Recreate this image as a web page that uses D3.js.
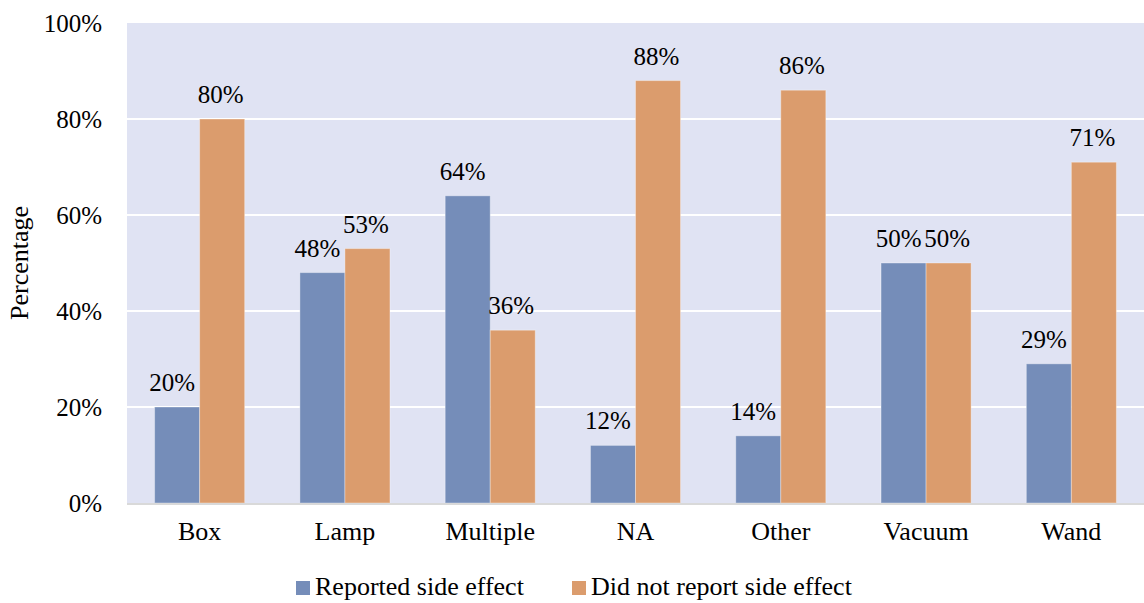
<!DOCTYPE html>
<html>
<head>
<meta charset="utf-8">
<script src="https://cdn.jsdelivr.net/npm/d3@7"></script>
<style>
  html, body { margin: 0; padding: 0; background: #fff; }
  svg { display: block; }
  svg text { font-family: "Liberation Serif", "Times New Roman", serif; }
</style>
</head>
<body>
<svg id="chart" width="1144" height="603"></svg>
<script>
// Device type categories and the share of respondents in each group
const categories = ["Box", "Lamp", "Multiple", "NA", "Other", "Vacuum", "Wand"];
const reported = [20, 48, 64, 12, 14, 50, 29];
const notReported = [80, 53, 36, 88, 86, 50, 71];
const seriesNames = ["Reported side effect", "Did not report side effect"];
const yTicks = [0, 20, 40, 60, 80, 100];

const colors = ["#758DB9", "#DB9C6D"];
const FONT = "'Liberation Serif', 'Times New Roman', serif";
const FS = 26;      // words
const FS_NUM = 25;  // percentages
const labelShift = [-5, -1.5];
const W = 1144, H = 603;
const margin = { top: 23, right: 0, bottom: 100, left: 127 };

const svg = d3.select("#chart");

const x = d3.scaleBand()
  .domain(categories)
  .range([margin.left, W - margin.right])
  .paddingInner(0.38)
  .paddingOuter(0.19);

const xSub = d3.scaleBand()
  .domain([0, 1])
  .range([0, x.bandwidth()]);

const y = d3.scaleLinear()
  .domain([0, 100])
  .range([H - margin.bottom, margin.top]);

// plot background
svg.append("rect")
  .attr("x", margin.left)
  .attr("y", margin.top)
  .attr("width", W - margin.left - margin.right)
  .attr("height", y(0) - margin.top)
  .attr("fill", "#E0E3F3");

// horizontal gridlines
svg.append("g")
  .selectAll("line")
  .data(yTicks.filter(d => d > 0 && d < 100))
  .join("line")
  .attr("x1", margin.left)
  .attr("x2", W - margin.right)
  .attr("y1", d => y(d))
  .attr("y2", d => y(d))
  .attr("stroke", "#ffffff")
  .attr("stroke-width", 2);

// y axis tick labels
const yAxis = d3.axisLeft(y)
  .tickValues(yTicks)
  .tickFormat(d => d + "%")
  .tickSize(0)
  .tickPadding(25);

const gy = svg.append("g")
  .attr("transform", `translate(${margin.left},0)`)
  .call(yAxis);
gy.select(".domain").remove();
gy.attr("font-family", null).attr("font-size", null);
gy.selectAll("text")
  .style("font-family", FONT)
  .style("font-size", FS_NUM + "px")
  .attr("fill", "#000");

// y axis title
svg.append("text")
  .attr("transform", `translate(28,${(y(0) + y(100)) / 2}) rotate(-90)`)
  .attr("text-anchor", "middle")
  .style("font-family", FONT)
  .style("font-size", FS + "px")
  .attr("fill", "#000")
  .text("Percentage");

// grouped bars
const rows = categories.map((c, i) => ({ cat: c, vals: [reported[i], notReported[i]] }));

const groups = svg.append("g")
  .selectAll("g")
  .data(rows)
  .join("g")
  .attr("transform", d => `translate(${x(d.cat)},0)`);

groups.selectAll("rect")
  .data(d => d.vals.map((v, k) => ({ v, k })))
  .join("rect")
  .attr("x", d => xSub(d.k))
  .attr("width", xSub.bandwidth())
  .attr("y", d => y(d.v))
  .attr("height", d => y(0) - y(d.v))
  .attr("fill", d => colors[d.k])
  .attr("stroke", "rgba(255,255,255,0.35)")
  .attr("stroke-width", 1);

// value labels above bars
groups.selectAll("text")
  .data(d => d.vals.map((v, k) => ({ v, k })))
  .join("text")
  .attr("x", d => xSub(d.k) + xSub.bandwidth() / 2 + labelShift[d.k])
  .attr("y", d => y(d.v) - 16)
  .attr("text-anchor", "middle")
  .style("font-family", FONT)
  .style("font-size", FS_NUM + "px")
  .attr("fill", "#000")
  .text(d => d.v + "%");

// x axis line and category labels
svg.append("line")
  .attr("x1", margin.left)
  .attr("x2", W - margin.right)
  .attr("y1", y(0) + 1)
  .attr("y2", y(0) + 1)
  .attr("stroke", "#D9D9D9")
  .attr("stroke-width", 2);

const xAxis = d3.axisBottom(x).tickSize(0).tickPadding(19);
const gx = svg.append("g")
  .attr("transform", `translate(0,${y(0)})`)
  .call(xAxis);
gx.select(".domain").remove();
gx.attr("font-family", null).attr("font-size", null);
gx.selectAll("text")
  .style("font-family", FONT)
  .style("font-size", FS + "px")
  .attr("fill", "#000");

// legend
const legend = svg.append("g");
const legendX = [296, 572];
seriesNames.forEach((name, i) => {
  legend.append("rect")
    .attr("x", legendX[i])
    .attr("y", 581)
    .attr("width", 14)
    .attr("height", 14)
    .attr("fill", colors[i]);
  legend.append("text")
    .attr("x", legendX[i] + 19)
    .attr("y", 595)
    .style("font-family", FONT)
    .style("font-size", FS + "px")
    .attr("fill", "#000")
    .text(name);
});
</script>
</body>
</html>
